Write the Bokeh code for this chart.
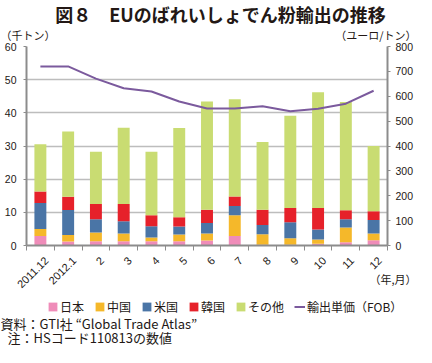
import math
from bokeh.plotting import figure
from bokeh.models import (Range1d, LinearAxis, FixedTicker, Label, Legend,
                          LegendItem, ColumnDataSource, GridBox)
from bokeh.embed import file_html
from bokeh.resources import INLINE

# ---------------- data ----------------
months = ["2011.12", "2012.1", "2", "3", "4", "5", "6", "7", "8", "9", "10", "11", "12"]
japan = [2.9, 1.2, 1.3, 1.3, 1.3, 1.3, 1.5, 2.9, 0.2, 0.2, 0.5, 1.0, 1.6]
china = [2.1, 2.0, 2.6, 2.3, 1.1, 2.0, 2.1, 6.2, 3.2, 2.0, 1.3, 4.4, 2.0]
usa = [7.8, 7.5, 4.0, 3.7, 3.4, 2.4, 3.2, 2.8, 2.8, 4.8, 3.0, 2.5, 4.1]
korea = [3.5, 4.0, 4.6, 5.2, 3.3, 2.8, 4.0, 2.9, 4.6, 4.3, 6.5, 2.7, 2.6]
other = [14.2, 19.7, 15.8, 23.0, 19.2, 26.9, 32.6, 29.3, 20.4, 27.8, 34.9, 32.7, 19.7]
price = [720, 720, 671, 632, 619, 579, 551, 551, 560, 540, 550, 570, 622]

series_names = ["日本", "中国", "米国", "韓国", "その他"]
line_name = "輸出単価（FOB）"
left_ticks = [0, 10, 20, 30, 40, 50, 60]
right_ticks = [0, 100, 200, 300, 400, 500, 600, 700, 800]

title_text = "図８　EUのばれいしょでん粉輸出の推移"
left_unit = "（千トン）"
right_unit = "（ユーロ/トン）"
x_unit = "（年,月）"
note1 = "資料：GTI社 “Global Trade Atlas”"
note2 = "注：HSコード110813の数値"

# ---------------- styles ----------------
colors = ["#ef8cb9", "#f5b82a", "#4a75a6", "#e6212a", "#c9dc72"]
line_color = "#7b5a9d"
axis_grey = "#8c8c8c"
text_col = "#231815"
JP = "Noto Sans CJK JP"
NUM = "Liberation Sans"
W, H = 416, 347
stack_cols = ["japan", "china", "usa", "korea", "other"]

xs = [i + 0.5 for i in range(len(months))]
label_pos = [i + 0.72 for i in range(len(months))]
src = ColumnDataSource(dict(x=xs, japan=japan, china=china, usa=usa,
                            korea=korea, other=other, price=price))

# ---------------- main chart ----------------
p = figure(width=W, height=H, output_backend="svg", toolbar_location=None,
           x_range=Range1d(0, len(months)), y_range=Range1d(0, 60),
           min_border_left=26, min_border_right=26, min_border_top=46,
           min_border_bottom=102)
p.frame_align = False
p.outline_line_color = None
p.extra_y_ranges = {"price": Range1d(0, 800)}

p.xgrid.visible = False
p.ygrid.ticker = FixedTicker(ticks=left_ticks)
p.ygrid.grid_line_color = "#bdbdbd"
p.ygrid.grid_line_width = 1.5

p.vbar_stack(stack_cols, x="x", width=0.43, fill_color=colors,
             line_color=None, source=src)
p.line("x", "price", source=src, y_range_name="price",
       line_color=line_color, line_width=2)

xa = p.xaxis[0]
xa.ticker = FixedTicker(ticks=label_pos, minor_ticks=list(range(len(months) + 1)))
xa.major_label_overrides = {x: m for x, m in zip(label_pos, months)}
xa.major_label_orientation = math.pi / 4
xa.major_tick_line_color = None
xa.minor_tick_line_color = axis_grey
xa.minor_tick_out = 5
xa.minor_tick_in = 0
xa.axis_line_color = axis_grey
xa.axis_line_width = 2
xa.major_label_text_font = NUM
xa.major_label_text_font_size = "11px"
xa.major_label_text_color = text_col
xa.major_label_standoff = 7

ya = p.yaxis[0]
ya.ticker = FixedTicker(ticks=left_ticks)
ya.axis_line_color = axis_grey
ya.axis_line_width = 2
ya.major_tick_line_color = axis_grey
ya.major_tick_out = 3
ya.major_tick_in = 0
ya.minor_tick_line_color = None
ya.major_label_text_font = NUM
ya.major_label_text_font_size = "10.5px"
ya.major_label_text_color = text_col
ya.major_label_standoff = 7

ra = LinearAxis(y_range_name="price", ticker=FixedTicker(ticks=right_ticks))
ra.axis_line_color = axis_grey
ra.axis_line_width = 2
ra.major_tick_line_color = axis_grey
ra.major_tick_out = 3
ra.major_tick_in = 0
ra.minor_tick_line_color = None
ra.major_label_text_font = NUM
ra.major_label_text_font_size = "10.5px"
ra.major_label_text_color = text_col
ra.major_label_standoff = 5
p.add_layout(ra, "right")

# ---------------- text / legend layer (same size, drawn on top) ----------------
ov = figure(width=W, height=H, output_backend="svg", toolbar_location=None,
            x_range=Range1d(0, W), y_range=Range1d(H, 0),
            x_axis_type=None, y_axis_type=None, min_border=0)
ov.frame_align = False
ov.outline_line_color = None
ov.background_fill_color = None
ov.border_fill_color = None

# hidden renderers that only supply the legend swatches
keys = []
for col, c in zip(stack_cols, colors):
    keys.append(ov.vbar(x="x", top=col, width=0.43, source=src, fill_color=c,
                        line_color=None, visible=False))
keys.append(ov.line("x", "price", source=src, line_color=line_color,
                    line_width=2, visible=False))

items = [LegendItem(label=n, renderers=[r])
         for n, r in zip(series_names + [line_name], keys)]
legend = Legend(items=items, orientation="horizontal", location=(47, 32),
                glyph_width=11, glyph_height=11, label_standoff=2, spacing=10,
                padding=0, margin=0, border_line_color=None,
                background_fill_alpha=0, inactive_fill_alpha=0,
                label_text_font=JP, label_text_font_size="12px",
                label_text_color=text_col, label_height=12, label_width=10)
ov.add_layout(legend)


def lab(text, x, y, size, align="left", bold=False):
    ov.add_layout(Label(x=x, y=y, text=text, text_align=align,
                        text_baseline="middle", text_font=JP,
                        text_font_size=size,
                        text_font_style="bold" if bold else "normal",
                        text_color=text_col))


lab(title_text, 220, 13, "18px", "center", bold=True)
lab(left_unit, 0, 34, "11px")
lab(right_unit, W, 34, "11px", "right")
lab(x_unit, W, 278, "11px", "right")
lab(note1, 0, 323, "13px")
lab(note2, 7, 337, "13px")

layout = GridBox(children=[(p, 0, 0), (ov, 0, 0)])
open("out.html", "w").write(file_html(layout, INLINE))
